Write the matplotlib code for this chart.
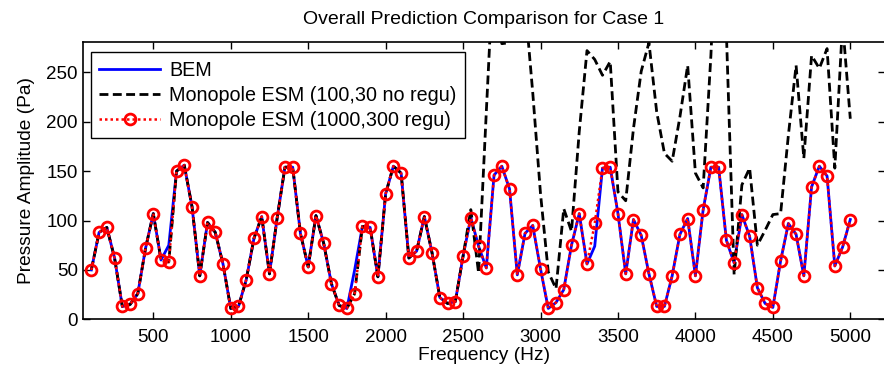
import matplotlib
matplotlib.use("Agg")
import matplotlib.pyplot as plt
import numpy as np

# frequency axis (Hz)
freq = np.arange(100, 5001, 50)

# Monopole ESM (1000,300 regu)
esm_regu = [
    50, 88, 93, 62, 13, 15, 26, 72, 107, 60,
    58, 150, 156, 114, 44, 98, 88, 56, 11, 13,
    40, 82, 104, 46, 103, 154, 154, 87, 53, 105,
    77, 36, 14, 11, 26, 94, 93, 43, 127, 155,
    148, 62, 69, 104, 67, 22, 16, 18, 64, 103,
    74, 52, 146, 155, 132, 45, 87, 95, 51, 11,
    17, 30, 75, 107, 56, 97, 153, 154, 107, 46,
    101, 85, 46, 13, 13, 44, 86, 102, 44, 111,
    154, 154, 80, 57, 106, 84, 32, 16, 12, 59,
    97, 86, 44, 134, 155, 145, 54, 73, 101,
]

# BEM reference (same as regularised ESM except a few points)
bem = list(esm_regu)
bem[10] = 75    # 600 Hz
bem[34] = 50    # 1800 Hz
bem[65] = 74    # 3350 Hz

# Monopole ESM (100,30 no regu): follows the others up to 2500 Hz
esm_noregu_high = [
    111, 47, 210, 370, 279, 280, 420, 320, 229, 127,
    48, 31, 112, 89, 190, 272, 263, 247, 261, 129,
    120, 193, 251, 280, 210, 168, 160, 205, 257, 148,
    133, 267, 450, 290, 45, 136, 153, 75, 90, 106,
    107, 186, 257, 163, 267, 254, 274, 153, 300, 203,
]
esm_noregu = esm_regu[:49] + esm_noregu_high

plt.rcParams["font.family"] = ["Liberation Sans", "DejaVu Sans"]
plt.rcParams["font.size"] = 13.5

fig = plt.figure(figsize=(8.84, 3.72), dpi=100)
ax = fig.add_axes([82.7 / 884, 1 - 319.3 / 372, (885 - 82.7) / 884, (319.3 - 41.7) / 372])

ax.plot(freq, bem, color="#0000ff", lw=2.0, label="BEM")
ax.plot(freq, esm_noregu, color="black", lw=2.0, ls=(0, (3.2, 1.6)),
        label="Monopole ESM (100,30 no regu)")
ax.plot(freq, esm_regu, color="#ff0000", lw=1.8, ls=(0, (1, 1.2)),
        marker="o", ms=7.8, mfc="none", mec="#ff0000", mew=2.0,
        label="Monopole ESM (1000,300 regu)")

px_per_hz = (850.3 - 153.3) / 4500
ax.set_xlim(500 - (153.3 - 82.7) / px_per_hz, 5000 + (885 - 850.3) / px_per_hz)
ax.set_ylim(0, 281)
ax.set_xticks(np.arange(500, 5001, 500))
ax.set_yticks(np.arange(0, 251, 50))
ax.tick_params(direction="in", top=True, right=True, length=5, width=1,
               labelsize=13.5)
ax.tick_params(axis="x", pad=7)
ax.tick_params(axis="y", pad=3.5)
for sp in ax.spines.values():
    sp.set_linewidth(1.2)

ax.set_title("Overall Prediction Comparison for Case 1", fontsize=14, pad=12.5)
ax.set_xlabel("Frequency (Hz)", fontsize=13.8, labelpad=1)
ax.set_ylabel("Pressure Amplitude (Pa)", fontsize=13.8, labelpad=8)

leg = ax.legend(loc="upper left", bbox_to_anchor=(0.01, 0.962), borderaxespad=0,
                fancybox=False, framealpha=1, edgecolor="black", fontsize=14.2,
                handlelength=3.1, handletextpad=0.45, labelspacing=0.32,
                borderpad=0.42)
leg.get_frame().set_linewidth(1.0)

fig.savefig("out.png", dpi=100)
